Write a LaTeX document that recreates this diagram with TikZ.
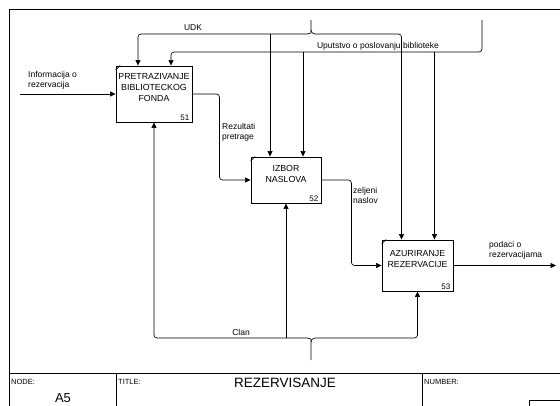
\documentclass[tikz,border=0pt]{standalone}
\usepackage{fontspec}
\setmainfont{Liberation Sans}
\usetikzlibrary{arrows.meta}

\begin{document}
\begin{tikzpicture}[x=1pt,y=-1pt,
    activity/.style={draw,line width=0.9pt,inner sep=0pt},
    boxtext/.style={align=center,font=\fontsize{8.8}{11}\selectfont,inner sep=0pt},
    boxnum/.style={anchor=south east,font=\fontsize{8}{9}\selectfont,inner sep=0pt},
    flow/.style={line width=0.65pt,rounded corners=3pt,-{Triangle[length=5.5pt,width=5pt]}},
    pipe/.style={line width=0.65pt,rounded corners=3pt},
    arrowlabel/.style={align=left,font=\fontsize{8.5}{10}\selectfont,inner sep=0pt},
    frameline/.style={line width=0.9pt},
    tag/.style={font=\fontsize{7.5}{9}\selectfont,inner sep=0pt,anchor=west}]

    \useasboundingbox (0,0) rectangle (560,406);
    \clip (0,0) rectangle (560,406);

    %frame
    \draw[frameline] (9,406) -- (9,9) -- (570,9);
    \draw[frameline] (9,373) -- (570,373);
    \draw[frameline] (116,373) -- (116,406);
    \draw[frameline] (422,373) -- (422,406);
    \draw[line width=0.7pt] (529,400) rectangle (580,420);
    \node[tag] (nodetag) at (11,381.5) {NODE:};
    \node[tag] (titletag) at (118,381.5) {TITLE:};
    \node[tag] (numbertag) at (424,381.5) {NUMBER:};
    \node[font=\fontsize{13}{15}\selectfont,inner sep=0pt] (nodeid) at (63,398) {A5};
    \node[font=\fontsize{13.5}{15}\selectfont,inner sep=0pt] (title) at (285,383) {REZERVISANJE};

    %51
    \node[activity,minimum width=76pt,minimum height=56pt] (b1) at (154,94) {};
    \node[boxtext] (b1t) at ([yshift=6pt]b1.center) {PRETRAZIVANJE\\BIBLIOTECKOG\\FONDA};
    \node[boxnum] (b1n) at ([xshift=-3pt,yshift=2pt]b1.south east) {51};
    \draw[line width=0.6pt] ([yshift=-4.5pt]b1.north west) -- ([xshift=4.5pt]b1.north west);

    %52
    \node[activity,minimum width=70pt,minimum height=46pt] (b2) at (286,180) {};
    \node[boxtext] (b2t) at ([yshift=6pt]b2.center) {IZBOR\\NASLOVA};
    \node[boxnum] (b2n) at ([xshift=-3pt,yshift=2pt]b2.south east) {52};
    \draw[line width=0.6pt] ([yshift=-4.5pt]b2.north west) -- ([xshift=4.5pt]b2.north west);

    %53
    \node[activity,minimum width=71pt,minimum height=51pt] (b3) at (417.5,265.5) {};
    \node[boxtext] (b3t) at ([yshift=6pt]b3.center) {AZURIRANJE\\REZERVACIJE};
    \node[boxnum] (b3n) at ([xshift=-3pt,yshift=2pt]b3.south east) {53};
    \draw[line width=0.6pt] ([yshift=-4.5pt]b3.north west) -- ([xshift=4.5pt]b3.north west);

    %control entry points
    \coordinate (b1c1) at ([xshift=-16pt]b1.north);
    \coordinate (b1c2) at ([xshift=17pt]b1.north);
    \coordinate (b2c1) at ([xshift=-16pt]b2.north);
    \coordinate (b2c2) at ([xshift=17pt]b2.north);
    \coordinate (b3c1) at ([xshift=-16pt]b3.north);
    \coordinate (b3c2) at ([xshift=17pt]b3.north);

    %inputs and outputs
    \coordinate (in1) at (20,94);
    \draw[flow] (in1) -- (b1.west);
    \node[arrowlabel,anchor=west] (in1l) at (28,80) {Informacija o\\rezervacija};

    \draw[flow] (b1.east) -- ++(27,0) |- (b2.west);
    \node[arrowlabel,anchor=west] (r12) at (222,132) {Rezultati\\pretrage};

    \draw[flow] (b2.east) -- ++(30,0) |- (b3.west);
    \node[arrowlabel,anchor=west] (r23) at (353,195) {zeljeni\\naslov};

    \coordinate (out3) at (556,265.5);
    \draw[flow] (b3.east) -- (out3);
    \node[arrowlabel,anchor=west] (out3l) at (489,250) {podaci o\\rezervacijama};

    %UDK
    \coordinate (udktop) at (311,20);
    \coordinate (udkj) at (311,30);
    \coordinate (udkl) at (307,34);
    \coordinate (udkr) at (315,34);
    \draw[pipe] (udktop) -- (udkj) to[out=-90,in=0] (udkl);
    \draw[pipe] (udkj) to[out=-90,in=180] (udkr);
    \draw[flow] (udkl) -| (b1c1);
    \draw[flow] (udkr) -| (b3c1);
    \draw[flow] (b2c1 |- udkl) -- (b2c1);
    \node[arrowlabel] (udklabel) at (193,28) {UDK};

    %Uputstvo
    \coordinate (uputop) at (482,20);
    \coordinate (upubend) at (482,52);
    \draw[flow] (uputop) |- (b1c2 |- upubend) -- (b1c2);
    \draw[flow] (b2c2 |- upubend) -- (b2c2);
    \draw[flow] (b3c2 |- upubend) -- (b3c2);
    \node[arrowlabel] (upulabel) at (378,46) {Uputstvo o poslovanju biblioteke};

    %Clan
    \coordinate (clanbot) at (311,360);
    \coordinate (clanj) at (311,342);
    \coordinate (clanl) at (307,338);
    \coordinate (clanr) at (315,338);
    \draw[pipe] (clanbot) -- (clanj) to[out=90,in=0] (clanl);
    \draw[pipe] (clanj) to[out=90,in=180] (clanr);
    \draw[flow] (clanl) -| (b1.south);
    \draw[flow] (clanr) -| (b3.south);
    \draw[flow] (b2.south |- clanl) -- (b2.south);
    \node[arrowlabel] (clanlabel) at (241,332) {Clan};

\end{tikzpicture}
\end{document}
